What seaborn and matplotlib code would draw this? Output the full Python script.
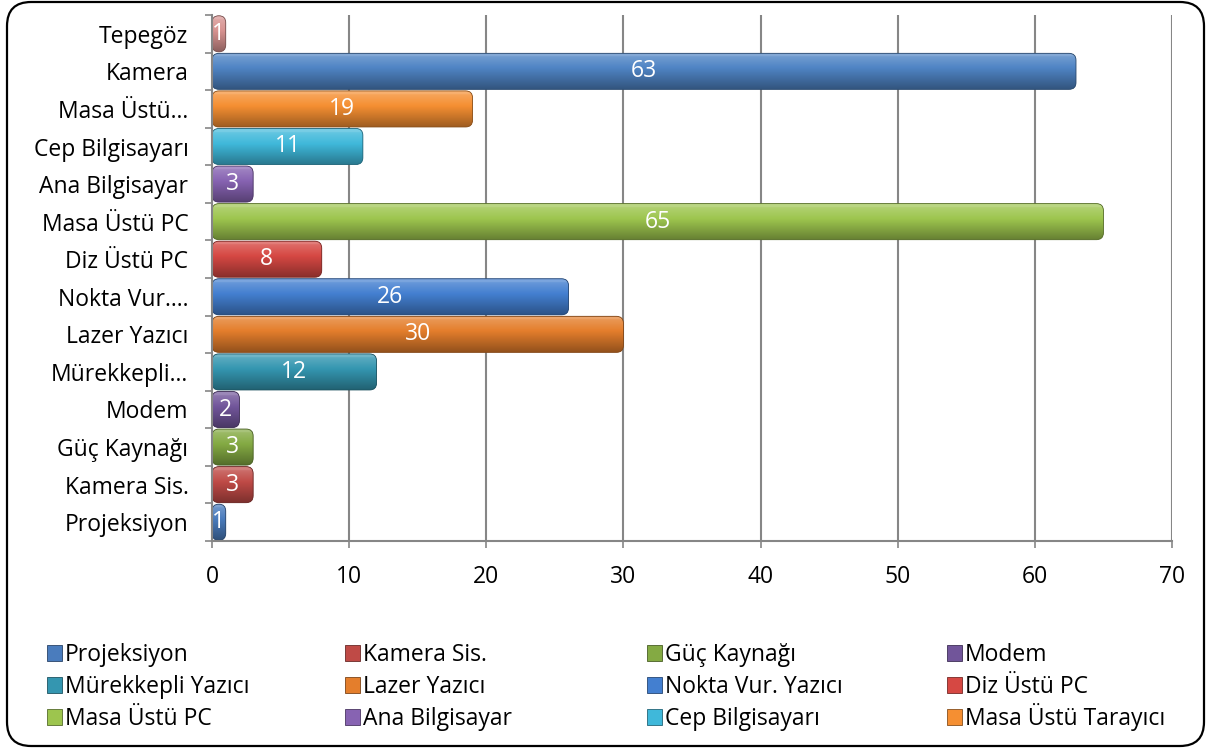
import matplotlib
matplotlib.use("Agg")
import matplotlib.pyplot as plt
import matplotlib.colors as mcolors
from matplotlib.patches import FancyBboxPatch, Patch
import numpy as np
import pandas as pd
import seaborn as sns

# ---------------- data ----------------
categories = ["Tepegöz", "Kamera", "Masa Üstü Tarayıcı", "Cep Bilgisayarı",
              "Ana Bilgisayar", "Masa Üstü PC", "Diz Üstü PC", "Nokta Vur. Yazıcı",
              "Lazer Yazıcı", "Mürekkepli Yazıcı", "Modem", "Güç Kaynağı",
              "Kamera Sis.", "Projeksiyon"]
tick_labels = ["Tepegöz", "Kamera", "Masa Üstü…", "Cep Bilgisayarı",
               "Ana Bilgisayar", "Masa Üstü PC", "Diz Üstü PC", "Nokta Vur.…",
               "Lazer Yazıcı", "Mürekkepli…", "Modem", "Güç Kaynağı",
               "Kamera Sis.", "Projeksiyon"]
values = [1, 63, 19, 11, 3, 65, 8, 26, 30, 12, 2, 3, 3, 1]
legend_order = ["Projeksiyon", "Kamera Sis.", "Güç Kaynağı", "Modem",
                "Mürekkepli Yazıcı", "Lazer Yazıcı", "Nokta Vur. Yazıcı", "Diz Üstü PC",
                "Masa Üstü PC", "Ana Bilgisayar", "Cep Bilgisayarı", "Masa Üstü Tarayıcı"]
bar_colors = {
    "Projeksiyon": "#4A7CBD",
    "Kamera Sis.": "#BF4A46",
    "Güç Kaynağı": "#84AA43",
    "Modem": "#71559A",
    "Mürekkepli Yazıcı": "#3496B0",
    "Lazer Yazıcı": "#E47E2C",
    "Nokta Vur. Yazıcı": "#437FD0",
    "Diz Üstü PC": "#D64843",
    "Masa Üstü PC": "#9DC54E",
    "Ana Bilgisayar": "#8763B2",
    "Cep Bilgisayarı": "#3FB8DA",
    "Masa Üstü Tarayıcı": "#F58F32",
    "Kamera": "#4F84C4",
    "Tepegöz": "#D79290",
}
x_ticks = [0, 10, 20, 30, 40, 50, 60, 70]

df = pd.DataFrame({"cat": categories, "val": values})

# ---------------- figure ----------------
W, H = 1206, 748
FS = 16.5
sns.set_theme(style="white")
plt.rcParams["font.family"] = ["Open Sans", "DejaVu Sans"]

fig = plt.figure(figsize=(W / 100, H / 100), dpi=100)
ax = fig.add_axes([212 / W, 1 - 541 / H, (1172 - 212) / W, (541 - 15) / H])

sns.barplot(data=df, y="cat", x="val", hue="cat", palette=bar_colors,
            order=categories, hue_order=categories, orient="h",
            width=0.96, legend=False, ax=ax, saturation=1)

ax.set_xlim(0, 70)
ax.set_ylim(len(categories) - 0.5, -0.5)
ax.set_xlabel("")
ax.set_ylabel("")
ax.set_xticks(x_ticks)
ax.set_xticklabels([str(t) for t in x_ticks], fontsize=FS)
ax.set_yticks(range(len(categories)))
ax.set_yticklabels(tick_labels, fontsize=FS)
ax.set_yticks(np.arange(-0.5, len(categories) + 0.5, 1), minor=True)
ax.tick_params(axis="y", which="major", length=0, pad=17, colors="black")
ax.tick_params(axis="y", which="minor", length=5, width=1.2, color="#868686", direction="out", left=True)
ax.tick_params(axis="x", which="major", length=5, width=1.2, color="#868686", direction="out",
               pad=12, bottom=True)
for lab in ax.get_xticklabels() + ax.get_yticklabels():
    lab.set_color("black")
ax.grid(axis="x", color="#868686", linewidth=1.5)
ax.set_axisbelow(True)
for s in ["top", "right"]:
    ax.spines[s].set_visible(False)
for s in ["left", "bottom"]:
    ax.spines[s].set_color("#868686")
    ax.spines[s].set_linewidth(1.5)

# value labels
for cont in ax.containers:
    ax.bar_label(cont, fmt="%g", label_type="center", color="white", fontsize=FS)

# ---------- restyle bars: rounded ends with a vertical gradient ----------
sx = ax.bbox.width / 70.0
sy = ax.bbox.height / len(categories)
r_px = 7.0
rx = r_px / sx
ry = r_px / sy
aspect = ry / rx

def shade(c, f):
    c = np.array(mcolors.to_rgb(c))
    if f >= 0:
        return c + (1 - c) * f
    return c * (1 + f)

for p in list(ax.patches):
    x0, y0 = p.get_x(), p.get_y()
    w, h = p.get_width(), p.get_height()
    if w <= 0:
        continue
    base = p.get_facecolor()
    p.set_visible(False)
    rs = min(rx, w / 2.0)
    fb = FancyBboxPatch((x0, y0), w, h,
                        boxstyle=f"round,pad=0,rounding_size={rs}",
                        mutation_aspect=aspect, facecolor=base,
                        edgecolor="none", zorder=2)
    ax.add_patch(fb)
    n = 64
    t = np.linspace(0, 1, n)
    grad = np.zeros((n, 1, 3))
    for i, tt in enumerate(t):
        if tt > 0.9:
            f = 0.30
        else:
            f = -0.35 + 0.55 * (tt / 0.9)
        grad[i, 0, :] = np.clip(shade(base, f), 0, 1)
    im = ax.imshow(grad, extent=(x0, x0 + w, y0 + h, y0), origin="lower",
                   aspect="auto", interpolation="bilinear", zorder=2.1)
    im.set_clip_path(fb)
    eg = FancyBboxPatch((x0, y0), w, h,
                        boxstyle=f"round,pad=0,rounding_size={rs}",
                        mutation_aspect=aspect, facecolor="none",
                        edgecolor=shade(base, -0.45), linewidth=0.6, zorder=2.2)
    ax.add_patch(eg)

for t in ax.texts:
    t.set_zorder(5)

ax.set_xlim(0, 70)
ax.set_ylim(len(categories) - 0.5, -0.5)
ax.set_aspect("auto")

# ---------------- legend (4 columns x 3 rows, one entry each) ----------------
col_x = [47, 345, 647, 947]
row_bottom = [667, 699, 731]
for idx, nm in enumerate(legend_order):
    r, c = divmod(idx, 4)
    h = Patch(facecolor=bar_colors[nm], edgecolor=shade(bar_colors[nm], -0.45),
              linewidth=0.6, label=nm)
    leg = fig.legend(handles=[h], loc="lower left",
                     bbox_to_anchor=(col_x[c] / W, 1 - row_bottom[r] / H),
                     frameon=False, fontsize=FS, handlelength=0.65, handleheight=0.65,
                     handletextpad=0.12, borderpad=0, borderaxespad=0)
    for txt in leg.get_texts():
        txt.set_color("black")

# ---------------- rounded outer border ----------------
border = FancyBboxPatch((7 / W, 2 / H), (1204 - 7) / W, (746 - 2) / H,
                        boxstyle="round,pad=0,rounding_size=0.02",
                        mutation_aspect=W / H, transform=fig.transFigure,
                        facecolor="none", edgecolor="black", linewidth=1.6)
fig.add_artist(border)

fig.savefig("out.png", dpi=100)
